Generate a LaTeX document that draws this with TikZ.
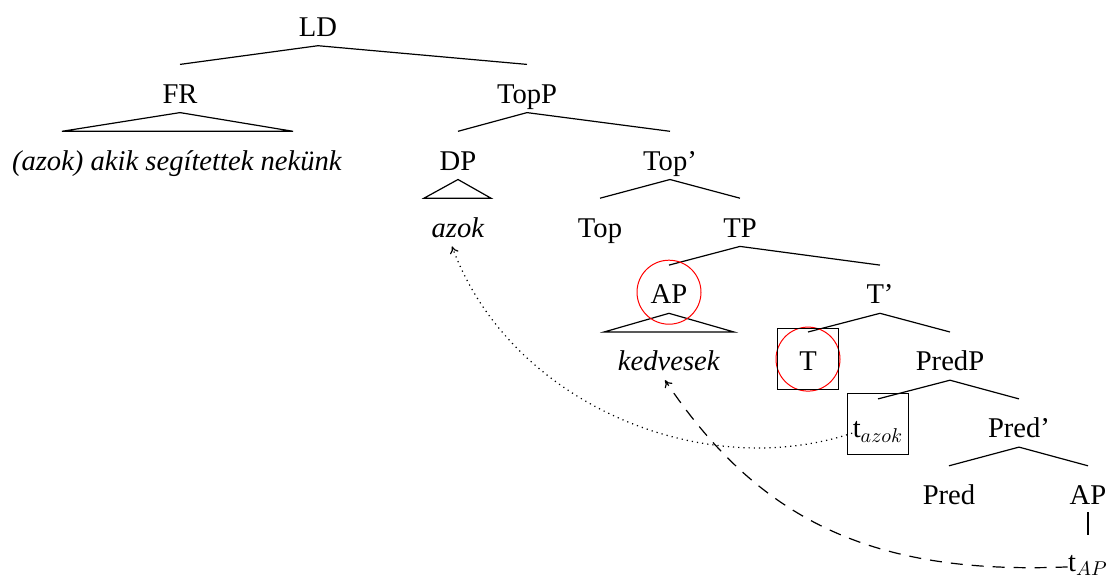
\documentclass[tikz,border=0pt]{standalone}
\usepackage{fontspec}
\setmainfont{Liberation Serif}
\usetikzlibrary{calc}
\usetikzlibrary{arrows.meta}

\tikzset{
	lbl/.style={inner sep=0pt, text height=19.1pt, text depth=4.4pt},
	ring/.style={draw=red, line width=0.5pt, circle, minimum size=32pt, inner sep=0pt},
	tracebox/.style={draw, line width=0.5pt, minimum size=30.5pt, inner sep=0pt},
}

\begin{document}
\begin{tikzpicture}[x=0.5pt, y=-0.5pt, line width=0.6pt, font=\fontsize{14.3}{17}\selectfont, >={To[length=3.5pt,width=4.5pt]}]
	\useasboundingbox (0,0) rectangle (1109,574);

	\node[lbl] (LD) at (318,21.6) {LD};
	\node[lbl] (FR) at (180,88.5) {FR};
	\node[lbl] (TopP) at (527,88.5) {TopP};
	\node[lbl] (FRt) at (177,155.4) {\textit{(azok) akik segítettek nekünk}};
	\node[lbl] (DP) at (458,155.4) {DP};
	\node[lbl] (Topbar) at (670,155.4) {Top'};
	\node[lbl] (azok) at (458,222.3) {\textit{azok}};
	\node[lbl] (Top) at (600,222.3) {Top};
	\node[lbl] (TP) at (740,222.3) {TP};
	\node[lbl] (AP) at (669,289.2) {AP};
	\node[lbl] (Tbar) at (880,289.2) {T'};
	\node[lbl] (kedvesek) at (669,356.1) {\textit{kedvesek}};
	\node[lbl] (T) at (808,356.1) {T};
	\node[lbl] (PredP) at (950,356.1) {PredP};
	\node[lbl] (tazok) at (878,423) {t$_{azok}$};
	\node[lbl] (Predbar) at (1019,423) {Pred'};
	\node[lbl] (Pred) at (949,489.9) {Pred};
	\node[lbl] (APlow) at (1088,489.9) {AP};
	\node[lbl] (tAP) at (1088,556.8) {t$_{AP}$};

	\draw (LD.south) -- (FR.north);
	\draw (LD.south) -- (TopP.north);
	\draw (FR.south) -- ([xshift=-57.5pt]FRt.north) -- ([xshift=58pt]FRt.north) -- cycle;
	\draw (TopP.south) -- (DP.north);
	\draw (TopP.south) -- (Topbar.north);
	\draw (DP.south) -- ([xshift=-17pt]azok.north) -- ([xshift=16.5pt]azok.north) -- cycle;
	\draw (Topbar.south) -- (Top.north);
	\draw (Topbar.south) -- (TP.north);
	\draw (TP.south) -- (AP.north);
	\draw (TP.south) -- (Tbar.north);
	\draw (AP.south) -- ([xshift=-32.5pt]kedvesek.north) -- ([xshift=32.5pt]kedvesek.north) -- cycle;
	\draw (Tbar.south) -- (T.north);
	\draw (Tbar.south) -- (PredP.north);
	\draw (PredP.south) -- (tazok.north);
	\draw (PredP.south) -- (Predbar.north);
	\draw (Predbar.south) -- (Pred.north);
	\draw (Predbar.south) -- (APlow.north);
	\draw ([yshift=1pt]APlow.south) -- ([yshift=-1pt]tAP.north);

	% marking
	\node[ring] at ([yshift=-1.5pt]AP) {};
	\node[ring] at ([yshift=-1.5pt]T) {};
	\node[tracebox] at ([yshift=-1.5pt]T) {};
	\node[tracebox] at ([yshift=-0.5pt]tazok) {};

	% movement
	\draw[dotted, ->] (tazok.mid west) .. controls +(-150,50) and +(58,157) .. ([xshift=-3pt]azok.south);
	\draw[dash pattern=on 6pt off 4.5pt, ->] (tAP.mid west) .. controls +(-193,8) and +(95,142) .. ([xshift=-2pt]kedvesek.south);
\end{tikzpicture}
\end{document}
